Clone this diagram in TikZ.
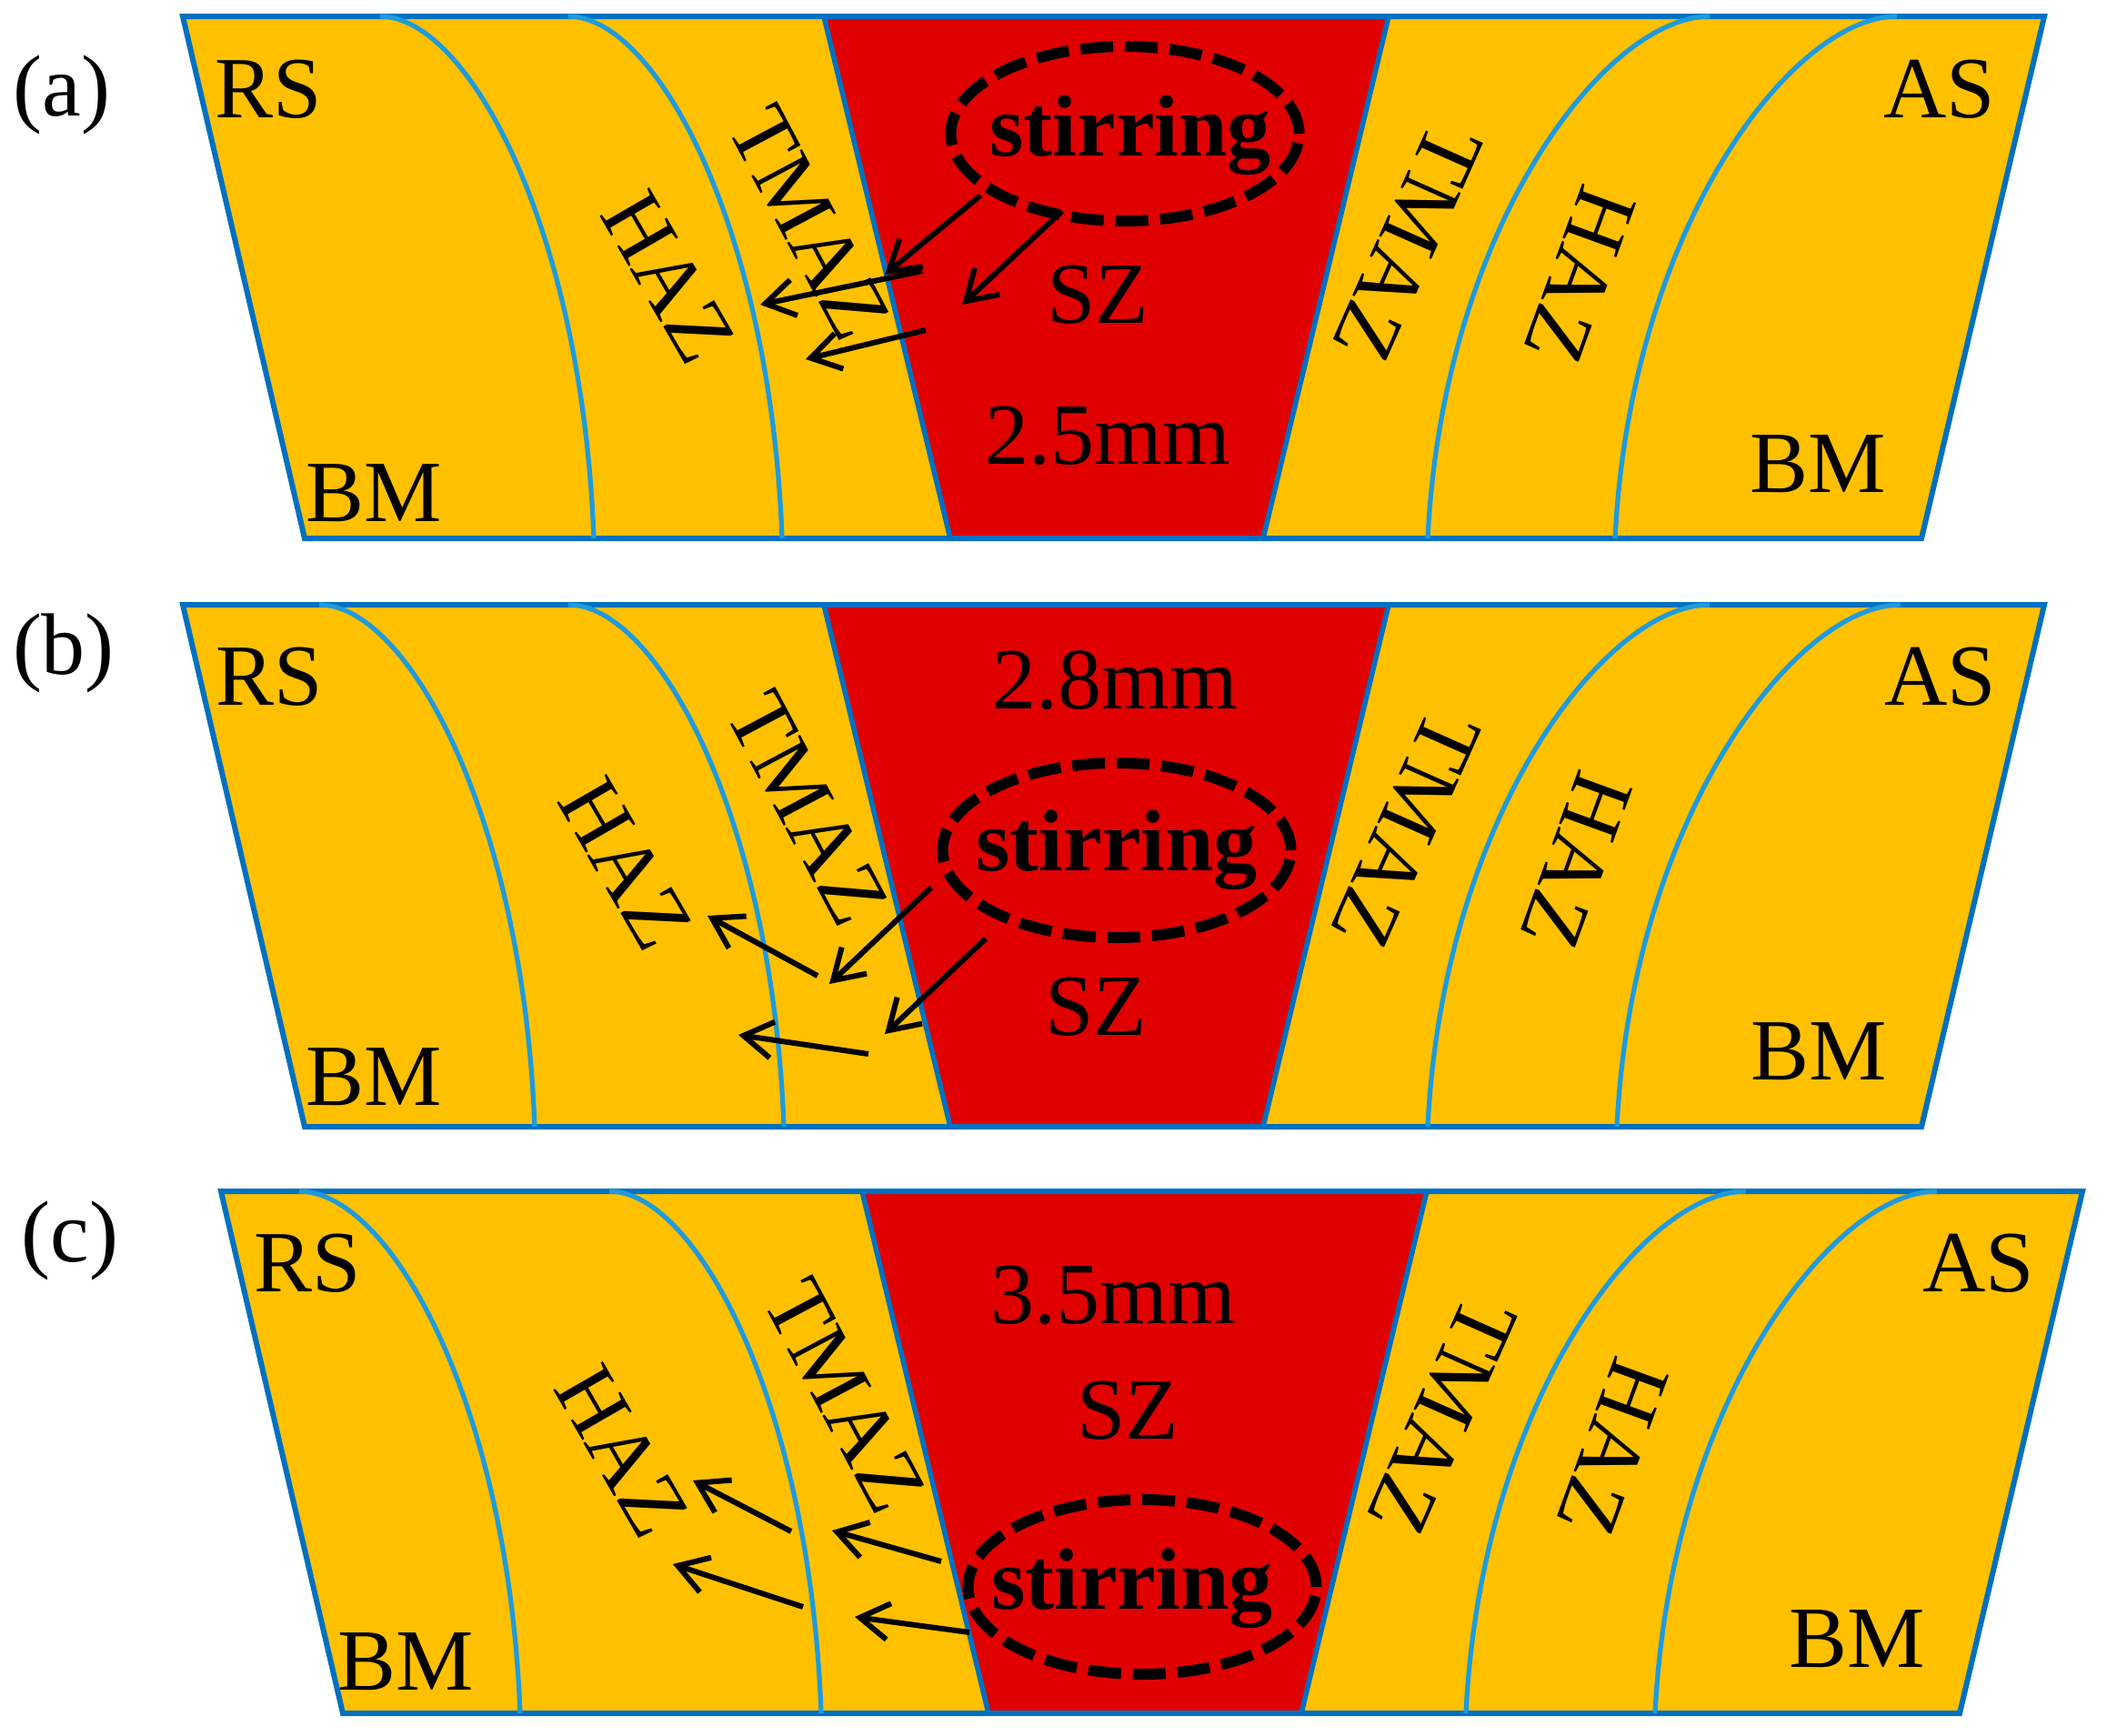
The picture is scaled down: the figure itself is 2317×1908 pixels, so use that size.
\documentclass[tikz,border=0pt]{standalone}
\usepackage{fontspec}
\setmainfont{Liberation Serif}
\usetikzlibrary{shapes.geometric, arrows.meta}
\definecolor{bordblue}{HTML}{0070C0}
\definecolor{curveblue}{HTML}{1E9BDC}
\definecolor{zoneorange}{HTML}{FFC000}
\definecolor{szred}{HTML}{E00000}
\newcommand\zcurveL[2]{\draw[zonecurve] (#1,18) .. controls ({#1+0.41*(#2-#1)},18) and ({#2-0.055*(#2-#1)},250) .. (#2,592);}
\newcommand\zcurveR[2]{\draw[zonecurve] (#1,592) .. controls ({#1+17},250) and ({#2-115},18) .. (#2,18);}
\newcommand\weldframe{%
  \fill[zoneorange] (201,18) -- (2248,18) -- (2113,592) -- (335,592) -- cycle;
  \fill[szred] (906,18) -- (1527,18) -- (1389,592) -- (1045,592) -- cycle;
  \draw[szedge] (906,18) -- (1045,592);
  \draw[szedge] (1527,18) -- (1389,592);
  \draw[frame] (201,18) -- (2248,18) -- (2113,592) -- (335,592) -- cycle;}
\begin{document}
\begin{tikzpicture}[x=0.5pt, y=-0.5pt,
  lbl/.style={inner sep=0pt, font=\fontsize{48}{58}\selectfont, anchor=base},
  rlbl/.style={inner sep=0pt, font=\fontsize{48}{58}\selectfont},
  boldlbl/.style={inner sep=0pt, font=\fontsize{48}{58}\selectfont\bfseries, anchor=base},
  frame/.style={draw=bordblue, line width=3pt, line join=miter},
  szedge/.style={draw=bordblue, line width=2.8pt},
  zonecurve/.style={draw=curveblue, line width=2.6pt},
  stirell/.style={ellipse, draw=black, line width=6pt, dash pattern=on 18pt off 6.5pt,
    minimum width=191.5pt, minimum height=96pt, inner sep=0pt},
  flow/.style={draw=black, line width=3pt, -{Straight Barb[length=16pt,width=20pt]}},
]
\useasboundingbox (0,0) rectangle (2317,1908);

% ---------- panel (a)
\begin{scope}
  \weldframe
  \zcurveL{418}{653}
  \zcurveL{625}{860}
  \zcurveR{1570}{1880}
  \zcurveR{1776}{2086}
\end{scope}
\node[lbl] (la) at (68,127) {(a)};
\node[lbl] (rsa) at (295,129) {RS};
\node[lbl] (bmla) at (411,573) {BM};
\node[lbl] (asa) at (2133,129) {AS};
\node[lbl] (bmra) at (1999,541) {BM};
\node[lbl] (mma) at (1218,510) {2.5mm};
\node[lbl] (sza) at (1207,355) {SZ};
\node[stirell] (ea) at (1237,147) {};
\node[boldlbl] (sta) at (1243,171) {stirring};
\node[rlbl, rotate=-62] (tmla) at (890,245) {TMAZ};
\node[rlbl, rotate=-60] (hzla) at (735,305) {HAZ};
\node[rlbl, rotate=-114] (tmra) at (1548,268) {TMAZ};
\node[rlbl, rotate=-110] (hzra) at (1738,303) {HAZ};
\coordinate (a1s) at (1078,215); \coordinate (a1e) at (973,302);
\coordinate (a2s) at (1168,232); \coordinate (a2e) at (1058,335);
\coordinate (a3s) at (1014,298); \coordinate (a3e) at (836,335);
\coordinate (a4s) at (1018,363); \coordinate (a4e) at (886,395);
\draw[flow] (a1s) -- (a1e);
\draw[flow] (a2s) -- (a2e);
\draw[flow] (a3s) -- (a3e);
\draw[flow] (a4s) -- (a4e);

% ---------- panel (b)
\begin{scope}[shift={(0,647)}]
  \weldframe
  \zcurveL{351}{588}
  \zcurveL{625}{862}
  \zcurveR{1570}{1880}
  \zcurveR{1778}{2090}
\end{scope}
\node[lbl] (lb) at (70,741) {(b)};
\node[lbl] (rsb) at (296,775) {RS};
\node[lbl] (bmlb) at (411,1215) {BM};
\node[lbl] (asb) at (2134,775) {AS};
\node[lbl] (bmrb) at (2000,1187) {BM};
\node[lbl] (mmb) at (1226,779) {2.8mm};
\node[lbl] (szb) at (1205,1138) {SZ};
\node[stirell] (eb) at (1228,935) {};
\node[boldlbl] (stb) at (1228,957) {stirring};
\node[rlbl, rotate=-62] (tmlb) at (888,889) {TMAZ};
\node[rlbl, rotate=-60] (hzlb) at (688,950) {HAZ};
\node[rlbl, rotate=-114] (tmrb) at (1546,913) {TMAZ};
\node[rlbl, rotate=-110] (hzrb) at (1734,947) {HAZ};
\coordinate (b1s) at (1024,976); \coordinate (b1e) at (912,1082);
\coordinate (b2s) at (1084,1032); \coordinate (b2e) at (973,1137);
\coordinate (b3s) at (899,1073); \coordinate (b3e) at (778,1007);
\coordinate (b4s) at (955,1159); \coordinate (b4e) at (812,1138);
\draw[flow] (b1s) -- (b1e);
\draw[flow] (b2s) -- (b2e);
\draw[flow] (b3s) -- (b3e);
\draw[flow] (b4s) -- (b4e);

% ---------- panel (c)
\begin{scope}[shift={(42,1292)}]
  \weldframe
  \zcurveL{287}{530}
  \zcurveL{628}{861}
  \zcurveR{1570}{1878}
  \zcurveR{1778}{2088}
\end{scope}
\node[lbl] (lc) at (77,1387) {(c)};
\node[lbl] (rsc) at (338,1420) {RS};
\node[lbl] (bmlc) at (446,1858) {BM};
\node[lbl] (asc) at (2176,1420) {AS};
\node[lbl] (bmrc) at (2042,1833) {BM};
\node[lbl] (mmc) at (1224,1455) {3.5mm};
\node[lbl] (szc) at (1240,1582) {SZ};
\node[stirell] (ec) at (1256,1745) {};
\node[boldlbl] (stc) at (1245,1769) {stirring};
\node[rlbl, rotate=-62] (tmlc) at (929,1535) {TMAZ};
\node[rlbl, rotate=-60] (hzlc) at (684,1596) {HAZ};
\node[rlbl, rotate=-114] (tmrc) at (1586,1558) {TMAZ};
\node[rlbl, rotate=-110] (hzrc) at (1774,1592) {HAZ};
\coordinate (c1s) at (870,1684); \coordinate (c1e) at (762,1628);
\coordinate (c2s) at (883,1767); \coordinate (c2e) at (740,1720);
\coordinate (c3s) at (1035,1717); \coordinate (c3e) at (915,1683);
\coordinate (c4s) at (1066,1795); \coordinate (c4e) at (940,1778);
\draw[flow] (c1s) -- (c1e);
\draw[flow] (c2s) -- (c2e);
\draw[flow] (c3s) -- (c3e);
\draw[flow] (c4s) -- (c4e);
\end{tikzpicture}
\end{document}
